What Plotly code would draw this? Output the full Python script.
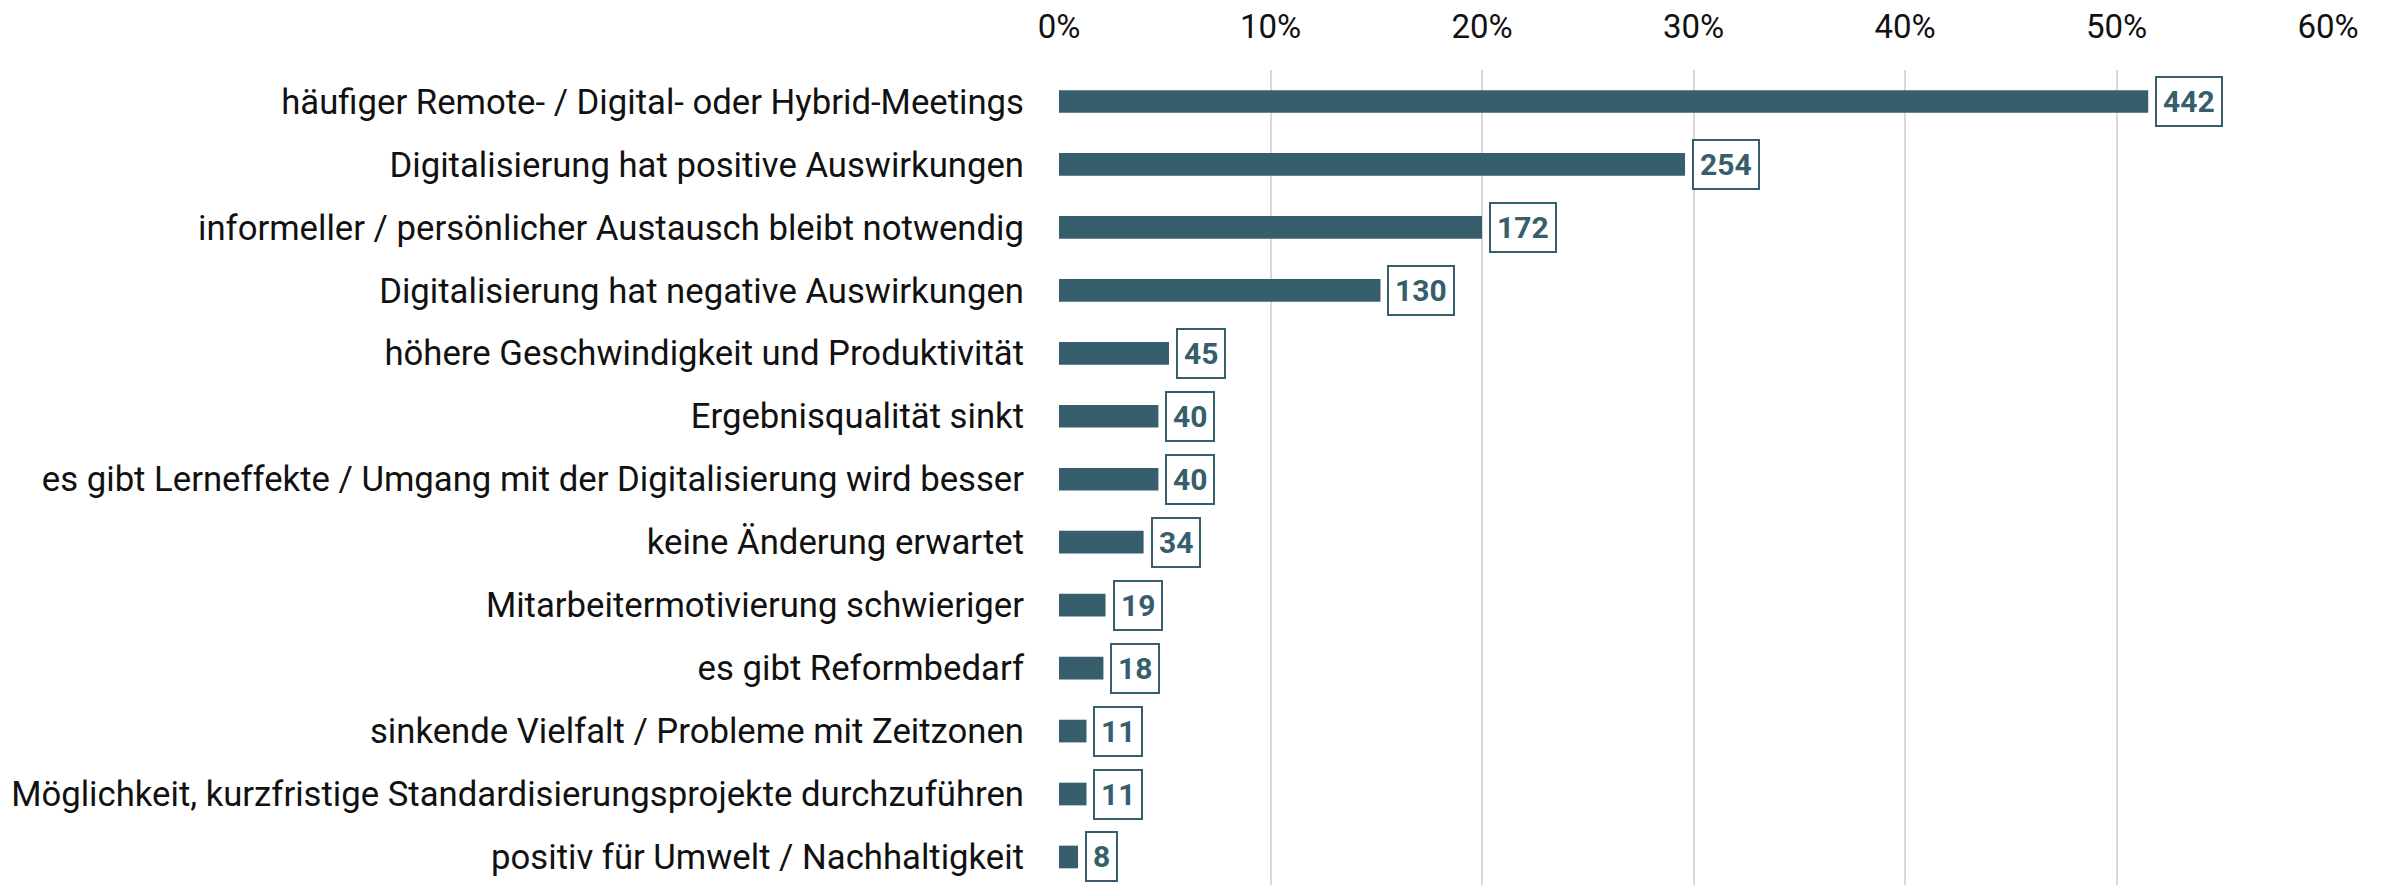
import plotly.graph_objects as go

categories = [
    "häufiger Remote- / Digital- oder Hybrid-Meetings",
    "Digitalisierung hat positive Auswirkungen",
    "informeller / persönlicher Austausch bleibt notwendig",
    "Digitalisierung hat negative Auswirkungen",
    "höhere Geschwindigkeit und Produktivität",
    "Ergebnisqualität sinkt",
    "es gibt Lerneffekte / Umgang mit der Digitalisierung wird besser",
    "keine Änderung erwartet",
    "Mitarbeitermotivierung schwieriger",
    "es gibt Reformbedarf",
    "sinkende Vielfalt / Probleme mit Zeitzonen",
    "Möglichkeit, kurzfristige Standardisierungsprojekte durchzuführen",
    "positiv für Umwelt / Nachhaltigkeit",
]
percent = [51.5, 29.6, 20.0, 15.2, 5.2, 4.7, 4.7, 4.0, 2.2, 2.1, 1.3, 1.3, 0.9]
counts = [442, 254, 172, 130, 45, 40, 40, 34, 19, 18, 11, 11, 8]
x_ticks = [0, 10, 20, 30, 40, 50, 60]
x_tick_labels = ["0%", "10%", "20%", "30%", "40%", "50%", "60%"]

BAR = "#365E6C"
FONT = "Roboto"

fig = go.Figure()
fig.add_trace(go.Bar(
    x=percent, y=categories, orientation="h",
    marker=dict(color=BAR, line=dict(width=0)),
    width=0.36, hoverinfo="skip",
))

for c, p, n in zip(categories, percent, counts):
    fig.add_annotation(
        x=p, y=c, xref="x", yref="y", text=f"<b>{n}</b>",
        showarrow=False, xanchor="left", yanchor="middle", xshift=7,
        font=dict(family=FONT, size=30, color=BAR),
        bordercolor=BAR, borderwidth=2, borderpad=6, bgcolor="white",
    )

# page body has an 8px default margin, so the figure is sized/offset to compensate
fig.update_layout(
    width=2381, height=877,
    margin=dict(l=1051, r=61, t=62, b=0),
    paper_bgcolor="white", plot_bgcolor="white",
    showlegend=False, bargap=0.64,
    font=dict(family=FONT, color="#111111"),
    xaxis=dict(
        side="top", range=[0, 60], tickvals=x_ticks, ticktext=x_tick_labels,
        showgrid=True, gridcolor="#d9d9d9", gridwidth=2, zeroline=False,
        showline=False, ticks="", ticklabelstandoff=24, automargin=False,
        tickfont=dict(family=FONT, size=33, color="#111111"),
    ),
    yaxis=dict(
        type="category", categoryorder="array", categoryarray=categories,
        range=[12.445, -0.5], showgrid=False, zeroline=False, showline=False,
        ticks="", ticklabelstandoff=34, automargin=False,
        tickfont=dict(family=FONT, size=34.7, color="#111111"),
    ),
)

fig.write_html("out.html")
